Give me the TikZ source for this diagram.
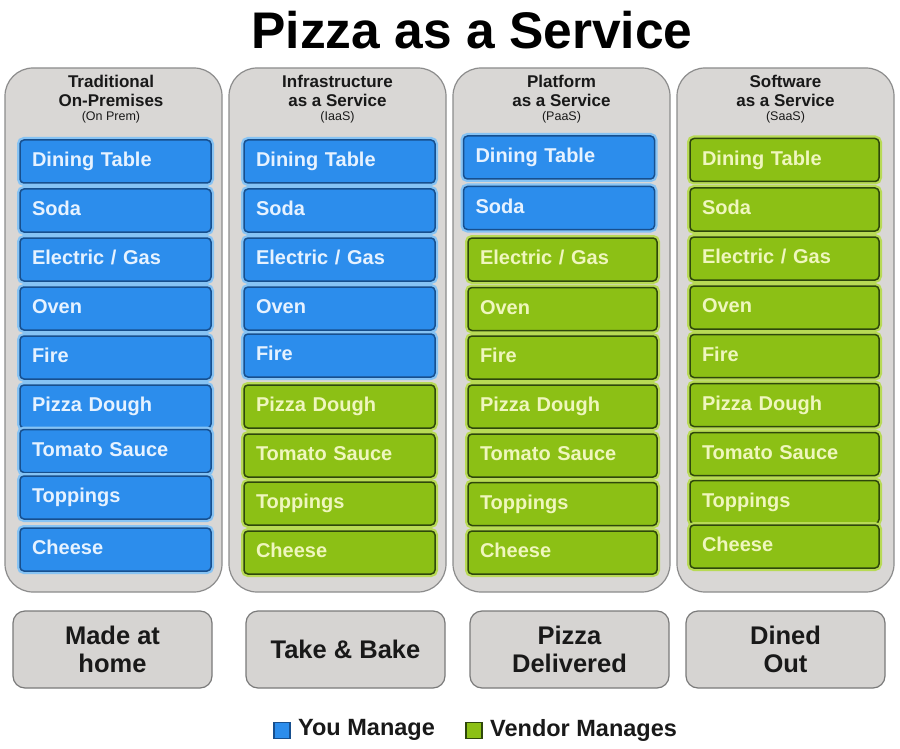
\documentclass[tikz,border=0pt]{standalone}
\usepackage{fontspec}
\setmainfont{Liberation Sans}
\definecolor{colfill}{HTML}{D9D7D5}
\definecolor{colline}{HTML}{8C8C8C}
\definecolor{bluefill}{HTML}{2C8DEC}
\definecolor{blueline}{HTML}{174F8E}
\definecolor{blueglow}{HTML}{86C3F4}
\definecolor{bluetext}{HTML}{E6F2FF}
\definecolor{greenfill}{HTML}{8CC015}
\definecolor{greenline}{HTML}{2E470B}
\definecolor{greenglow}{HTML}{B8DA55}
\definecolor{greentext}{HTML}{EFF6BE}
\definecolor{botfill}{HTML}{D6D4D2}
\definecolor{botline}{HTML}{7A7A7A}
\tikzset{
  colbg/.style={draw=colline, fill=colfill, line width=1.2pt, rounded corners=28pt, minimum width=217pt, minimum height=524pt, inner sep=0pt},
  item/.style={minimum width=191pt, minimum height=43pt, text width=167pt, align=left, inner xsep=12pt, inner ysep=0pt, text height=14pt, text depth=4pt, rounded corners=4pt, font=\fontsize{20}{23}\selectfont\bfseries, line width=1.5pt},
  narrow/.style={minimum width=189pt, text width=165pt},
  you/.style={item, fill=bluefill, draw=blueline, text=bluetext, preaction={draw=blueglow, line width=6pt}},
  vendor/.style={item, fill=greenfill, draw=greenline, text=greentext, preaction={draw=greenglow, line width=6pt}},
  headtxt/.style={align=center, font=\fontsize{17}{19}\selectfont\bfseries, inner sep=0pt, text=black!90},
  subtxt/.style={font=\fontsize{12.5}{14}\selectfont, inner sep=0pt, text=black!90},
  botbox/.style={draw=botline, fill=botfill, line width=1.2pt, rounded corners=12pt, minimum width=199pt, minimum height=77pt, align=center, font=\fontsize{25.5}{28}\selectfont\bfseries, inner sep=0pt, text=black!90},
  legsq/.style={minimum size=16pt, inner sep=0pt, line width=1.2pt},
  legtxt/.style={anchor=west, font=\fontsize{23.5}{26}\selectfont\bfseries, inner sep=0pt, text=black!90},
}
\begin{document}
\begin{tikzpicture}[x=1pt,y=-1pt]
\useasboundingbox[fill=white] (0,0) rectangle (900,749);
\node[font=\fontsize{51.5}{56}\selectfont\bfseries, inner sep=0pt] (title) at (472,30) {Pizza as a Service};
% columns
\node[colbg] (col1) at (113.5,330) {};
\node[colbg] (col2) at (337.5,330) {};
\node[colbg] (col3) at (561.5,330) {};
\node[colbg] (col4) at (785.5,330) {};
% headers
\node[headtxt] (h1) at (111,90.5) {Traditional\\On-Premises};
\node[subtxt] (s1) at (111,117) {(On Prem)};
\node[headtxt] (h2) at (337.5,90.5) {Infrastructure\\as a Service};
\node[subtxt] (s2) at (337.5,117) {(IaaS)};
\node[headtxt] (h3) at (561.5,90.5) {Platform\\as a Service};
\node[subtxt] (s3) at (561.5,117) {(PaaS)};
\node[headtxt] (h4) at (785.5,90.5) {Software\\as a Service};
\node[subtxt] (s4) at (785.5,117) {(SaaS)};
% column 1
\node[you] (c1r1) at (115.5,161.5) {Dining Table};
\node[you] (c1r2) at (115.5,210.5) {Soda};
\node[you] (c1r3) at (115.5,259.5) {Electric / Gas};
\node[you] (c1r4) at (115.5,308.5) {Oven};
\node[you] (c1r5) at (115.5,357.5) {Fire};
\node[you] (c1r6) at (115.5,406.5) {Pizza Dough};
\node[you] (c1r7) at (115.5,451) {Tomato Sauce};
\node[you] (c1r8) at (115.5,497.5) {Toppings};
\node[you] (c1r9) at (115.5,549.5) {Cheese};
% column 2
\node[you] (c2r1) at (339.5,161.5) {Dining Table};
\node[you] (c2r2) at (339.5,210.5) {Soda};
\node[you] (c2r3) at (339.5,259.5) {Electric / Gas};
\node[you] (c2r4) at (339.5,308.5) {Oven};
\node[you] (c2r5) at (339.5,355.5) {Fire};
\node[vendor] (c2r6) at (339.5,406.5) {Pizza Dough};
\node[vendor] (c2r7) at (339.5,455.5) {Tomato Sauce};
\node[vendor] (c2r8) at (339.5,503.5) {Toppings};
\node[vendor] (c2r9) at (339.5,552.5) {Cheese};
% column 3
\node[you] (c3r1) at (559,157.5) {Dining Table};
\node[you] (c3r2) at (559,208) {Soda};
\node[vendor,narrow] (c3r3) at (562.5,259.5) {Electric / Gas};
\node[vendor,narrow] (c3r4) at (562.5,309) {Oven};
\node[vendor,narrow] (c3r5) at (562.5,357.5) {Fire};
\node[vendor,narrow] (c3r6) at (562.5,406.5) {Pizza Dough};
\node[vendor,narrow] (c3r7) at (562.5,455.5) {Tomato Sauce};
\node[vendor,narrow] (c3r8) at (562.5,504) {Toppings};
\node[vendor,narrow] (c3r9) at (562.5,552.5) {Cheese};
% column 4
\node[vendor,narrow] (c4r1) at (784.5,160) {Dining Table};
\node[vendor,narrow] (c4r2) at (784.5,209.5) {Soda};
\node[vendor,narrow] (c4r3) at (784.5,258.5) {Electric / Gas};
\node[vendor,narrow] (c4r4) at (784.5,307.5) {Oven};
\node[vendor,narrow] (c4r5) at (784.5,356) {Fire};
\node[vendor,narrow] (c4r6) at (784.5,405) {Pizza Dough};
\node[vendor,narrow] (c4r7) at (784.5,454) {Tomato Sauce};
\node[vendor,narrow] (c4r8) at (784.5,502) {Toppings};
\node[vendor,narrow] (c4r9) at (784.5,546.5) {Cheese};
% bottom boxes
\node[botbox] (b1) at (112.5,649.5) {Made at\\home};
\node[botbox] (b2) at (345.5,649.5) {Take \& Bake};
\node[botbox] (b3) at (569.5,649.5) {Pizza\\Delivered};
\node[botbox] (b4) at (785.5,649.5) {Dined\\Out};
% legend
\node[legsq, fill=bluefill, draw=blueline] (lg1) at (282,730.5) {};
\node[legtxt] (lt1) at (298,730) {You Manage};
\node[legsq, fill=greenfill, draw=greenline] (lg2) at (474,730.5) {};
\node[legtxt] (lt2) at (490,730) {Vendor Manages};
\end{tikzpicture}
\end{document}
